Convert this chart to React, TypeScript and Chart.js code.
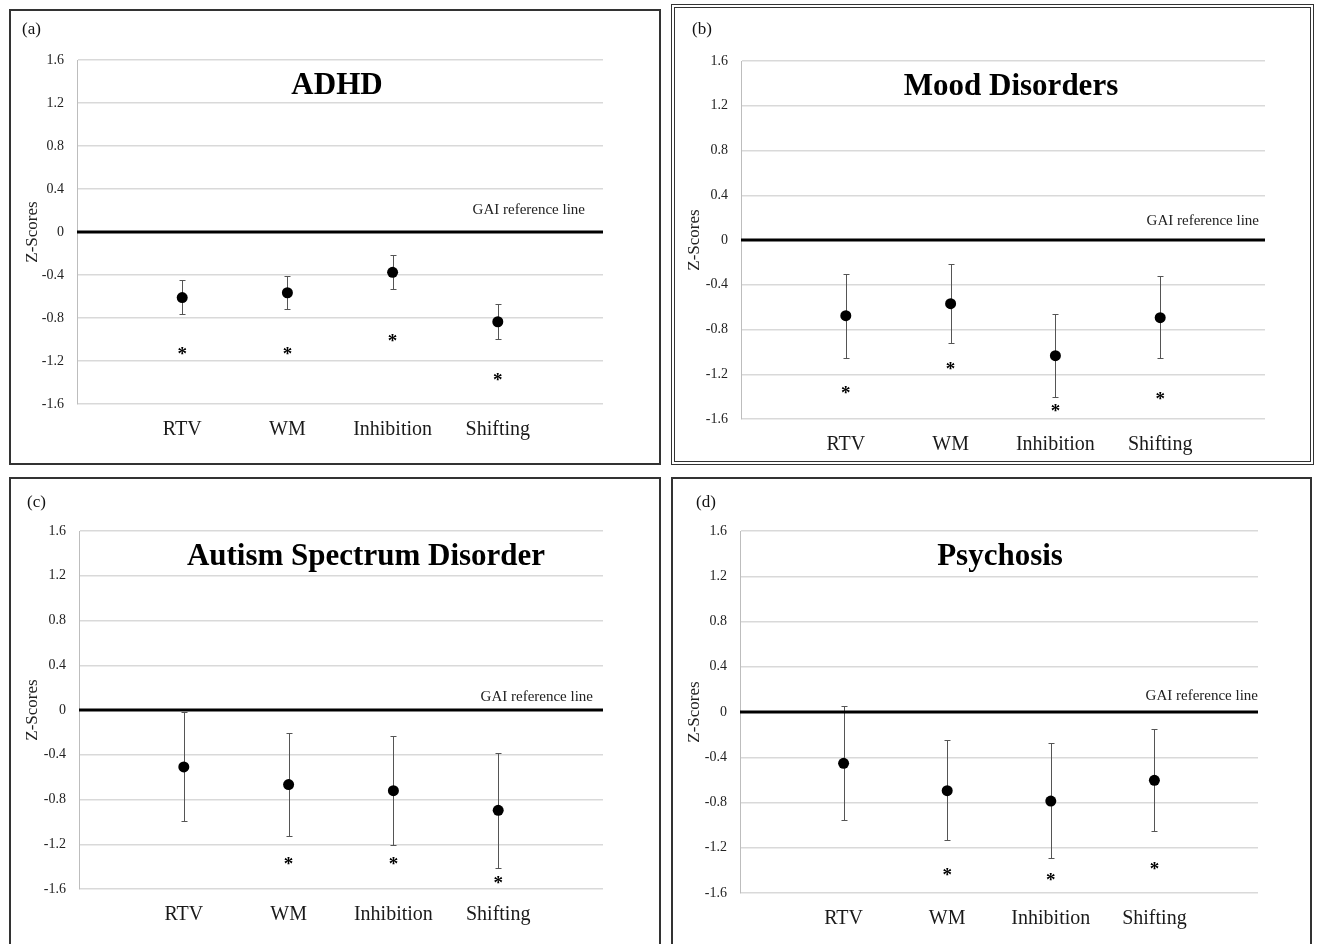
import React, { useEffect, useRef } from 'react';
import { Chart, registerables } from 'chart.js';

Chart.register(...registerables);

const FONT = "'Liberation Serif', 'Times New Roman', Times, serif";

// ---- data ----
const categories = ['RTV', 'WM', 'Inhibition', 'Shifting'];
const yTickValues = [-1.6, -1.2, -0.8, -0.4, 0, 0.4, 0.8, 1.2, 1.6];
const referenceLabel = 'GAI reference line';
const axisTitle = 'Z-Scores';

const adhdMeans = [-0.61, -0.565, -0.375, -0.835];
const adhdUpper = [-0.45, -0.41, -0.215, -0.67];
const adhdLower = [-0.765, -0.715, -0.53, -0.995];
const adhdStars = [-1.11, -1.11, -0.99, -1.345];

const moodMeans = [-0.676, -0.569, -1.034, -0.694];
const moodUpper = [-0.304, -0.214, -0.659, -0.325];
const moodLower = [-1.057, -0.923, -1.403, -1.057];
const moodStars = [-1.34, -1.123, -1.504, -1.394];

const asdMeans = [-0.509, -0.667, -0.721, -0.897];
const asdUpper = [-0.015, -0.203, -0.235, -0.381];
const asdLower = [-0.992, -1.129, -1.206, -1.409];
const asdStars = [null, -1.35, -1.35, -1.516];

const psyMeans = [-0.454, -0.696, -0.787, -0.604];
const psyUpper = [0.052, -0.251, -0.277, -0.153];
const psyLower = [-0.958, -1.134, -1.288, -1.055];
const psyStars = [null, -1.41, -1.46, -1.359];

// ---- layout ----
type Box = { x: number; y: number; w: number; h: number };
type Area = { l: number; t: number; r: number; b: number };
type PanelCfg = {
  key: string;
  tag: string;
  title: string;
  means: number[];
  upper: number[];
  lower: number[];
  stars: (number | null)[];
  box: Box;
  area: Area;
  double: boolean;
  titleDx: number;
  refDx: number;
  refDy: number;
  tagX: number;
  tagY: number;
};

const panels: PanelCfg[] = [
  {
    key: 'a', tag: '(a)', title: 'ADHD',
    means: adhdMeans, upper: adhdUpper, lower: adhdLower, stars: adhdStars,
    box: { x: 9, y: 9, w: 652, h: 456 },
    area: { l: 77, t: 60, r: 603, b: 404 },
    double: false, titleDx: -3, refDx: 18, refDy: 22, tagX: 13, tagY: 21,
  },
  {
    key: 'b', tag: '(b)', title: 'Mood Disorders',
    means: moodMeans, upper: moodUpper, lower: moodLower, stars: moodStars,
    box: { x: 671, y: 4, w: 643, h: 461 },
    area: { l: 741, t: 61, r: 1265, b: 419 },
    double: true, titleDx: 8, refDx: 6, refDy: 19, tagX: 21, tagY: 26,
  },
  {
    key: 'c', tag: '(c)', title: 'Autism Spectrum Disorder',
    means: asdMeans, upper: asdUpper, lower: asdLower, stars: asdStars,
    box: { x: 9, y: 477, w: 652, h: 470 },
    area: { l: 79, t: 531, r: 603, b: 889 },
    double: false, titleDx: 25, refDx: 10, refDy: 13, tagX: 18, tagY: 26,
  },
  {
    key: 'd', tag: '(d)', title: 'Psychosis',
    means: psyMeans, upper: psyUpper, lower: psyLower, stars: psyStars,
    box: { x: 671, y: 477, w: 641, h: 470 },
    area: { l: 740, t: 531, r: 1258, b: 893 },
    double: false, titleDx: 1, refDx: 0, refDy: 16, tagX: 25, tagY: 26,
  },
];

function makeDecor(p: PanelCfg) {
  return {
    id: 'decor_' + p.key,
    beforeDatasetsDraw(chart: any) {
      const { ctx, scales } = chart;
      const x = scales.x;
      const y = scales.y;
      ctx.save();
      ctx.strokeStyle = '#555555';
      ctx.lineWidth = 1;
      p.means.forEach((_m, i) => {
        const px = Math.round(x.getPixelForValue(i + 1)) + 0.5;
        const yt = Math.round(y.getPixelForValue(p.upper[i])) + 0.5;
        const yb = Math.round(y.getPixelForValue(p.lower[i])) + 0.5;
        ctx.beginPath();
        ctx.moveTo(px, yt);
        ctx.lineTo(px, yb);
        ctx.moveTo(px - 3, yt);
        ctx.lineTo(px + 3, yt);
        ctx.moveTo(px - 3, yb);
        ctx.lineTo(px + 3, yb);
        ctx.stroke();
      });
      ctx.restore();
    },
    afterDatasetsDraw(chart: any) {
      const { ctx, scales, chartArea } = chart;
      const x = scales.x;
      const y = scales.y;
      ctx.save();
      // asterisks
      ctx.fillStyle = '#000';
      ctx.font = `bold 19px ${FONT}`;
      ctx.textAlign = 'center';
      ctx.textBaseline = 'alphabetic';
      p.stars.forEach((s, i) => {
        if (s === null) return;
        const px = x.getPixelForValue(i + 1);
        const py = y.getPixelForValue(s);
        ctx.fillText('*', px, py + 9);
      });
      // reference label
      ctx.fillStyle = '#222';
      ctx.font = `15px ${FONT}`;
      ctx.textAlign = 'right';
      ctx.textBaseline = 'middle';
      ctx.fillText(referenceLabel, chartArea.right - p.refDx, y.getPixelForValue(0) - p.refDy);
      // title
      ctx.fillStyle = '#000';
      ctx.font = `bold 31px ${FONT}`;
      ctx.textAlign = 'center';
      ctx.textBaseline = 'middle';
      ctx.fillText(p.title, (chartArea.left + chartArea.right) / 2 + p.titleDx, chartArea.top + 26);
      // panel tag
      ctx.fillStyle = '#111';
      ctx.font = `17px ${FONT}`;
      ctx.textAlign = 'left';
      ctx.textBaseline = 'middle';
      ctx.fillText(p.tag, p.tagX, p.tagY);
      ctx.restore();
    },
  };
}

function Panel({ p }: { p: PanelCfg }) {
  const ref = useRef<HTMLCanvasElement>(null);
  useEffect(() => {
    const canvas = ref.current;
    if (!canvas) return;
    const yAxisWidth = p.area.l - p.box.x;
    const xAxisHeight = p.box.y + p.box.h - p.area.b;
    const chart = new Chart(canvas, {
      type: 'scatter',
      data: {
        datasets: [
          {
            label: 'means',
            data: p.means.map((m, i) => ({ x: i + 1, y: m })),
            pointRadius: 5.5,
            pointBackgroundColor: '#000',
            pointBorderWidth: 0,
            showLine: false,
            order: 1,
          } as any,
          {
            label: 'reference',
            data: [
              { x: 0, y: 0 },
              { x: categories.length + 1, y: 0 },
            ],
            showLine: true,
            borderColor: '#000',
            borderWidth: 3,
            pointRadius: 0,
            order: 2,
          } as any,
        ],
      },
      options: {
        animation: false,
        responsive: false,
        devicePixelRatio: 1,
        events: [],
        layout: {
          padding: {
            top: p.area.t - p.box.y,
            right: p.box.x + p.box.w - p.area.r,
            left: 0,
            bottom: 0,
          },
        },
        plugins: {
          legend: { display: false },
          tooltip: { enabled: false },
          title: { display: false },
        },
        scales: {
          x: {
            type: 'linear',
            min: 0,
            max: categories.length + 1,
            grid: { display: false, drawTicks: false },
            border: { display: false },
            afterBuildTicks: (scale: any) => {
              scale.ticks = categories.map((_c, i) => ({ value: i + 1 }));
            },
            afterFit: (scale: any) => {
              scale.height = xAxisHeight;
            },
            ticks: {
              padding: 14,
              color: '#1a1a1a',
              font: { family: FONT, size: 20 },
              maxRotation: 0,
              autoSkip: false,
              callback: (v: any) => categories[Math.round(Number(v)) - 1] ?? '',
            },
          },
          y: {
            type: 'linear',
            min: yTickValues[0],
            max: yTickValues[yTickValues.length - 1],
            grid: { color: '#d9d9d9', lineWidth: 1.5, drawTicks: false },
            border: { display: true, color: '#bdbdbd', width: 1 },
            afterBuildTicks: (scale: any) => {
              scale.ticks = yTickValues.map((v) => ({ value: v }));
            },
            afterFit: (scale: any) => {
              scale.width = yAxisWidth;
            },
            ticks: {
              padding: 13,
              color: '#222',
              font: { family: FONT, size: 14 },
              callback: (v: any) => {
                const n = Math.round(Number(v) * 10) / 10;
                return n === 0 ? '0' : n.toFixed(1);
              },
            },
            title: {
              display: true,
              text: axisTitle,
              color: '#222',
              font: { family: FONT, size: 17 },
              padding: { top: 13, bottom: 0 },
            },
          },
        },
      },
      plugins: [makeDecor(p)],
    } as any);
    return () => chart.destroy();
  }, [p]);

  const b = p.box;
  return (
    <>
      <div
        style={{
          position: 'absolute',
          left: b.x,
          top: b.y,
          width: b.w,
          height: b.h,
          boxSizing: 'border-box',
          border: p.double ? '4px double #333' : '2px solid #333',
        }}
      />
      <canvas
        ref={ref}
        width={b.w}
        height={b.h}
        style={{ position: 'absolute', left: b.x, top: b.y, width: b.w, height: b.h }}
      />
    </>
  );
}

export default function App() {
  return (
    <div
      style={{
        position: 'absolute',
        left: 0,
        top: 0,
        width: 1320,
        height: 944,
        overflow: 'hidden',
        background: '#fff',
      }}
    >
      {panels.map((p) => (
        <Panel key={p.key} p={p} />
      ))}
    </div>
  );
}
